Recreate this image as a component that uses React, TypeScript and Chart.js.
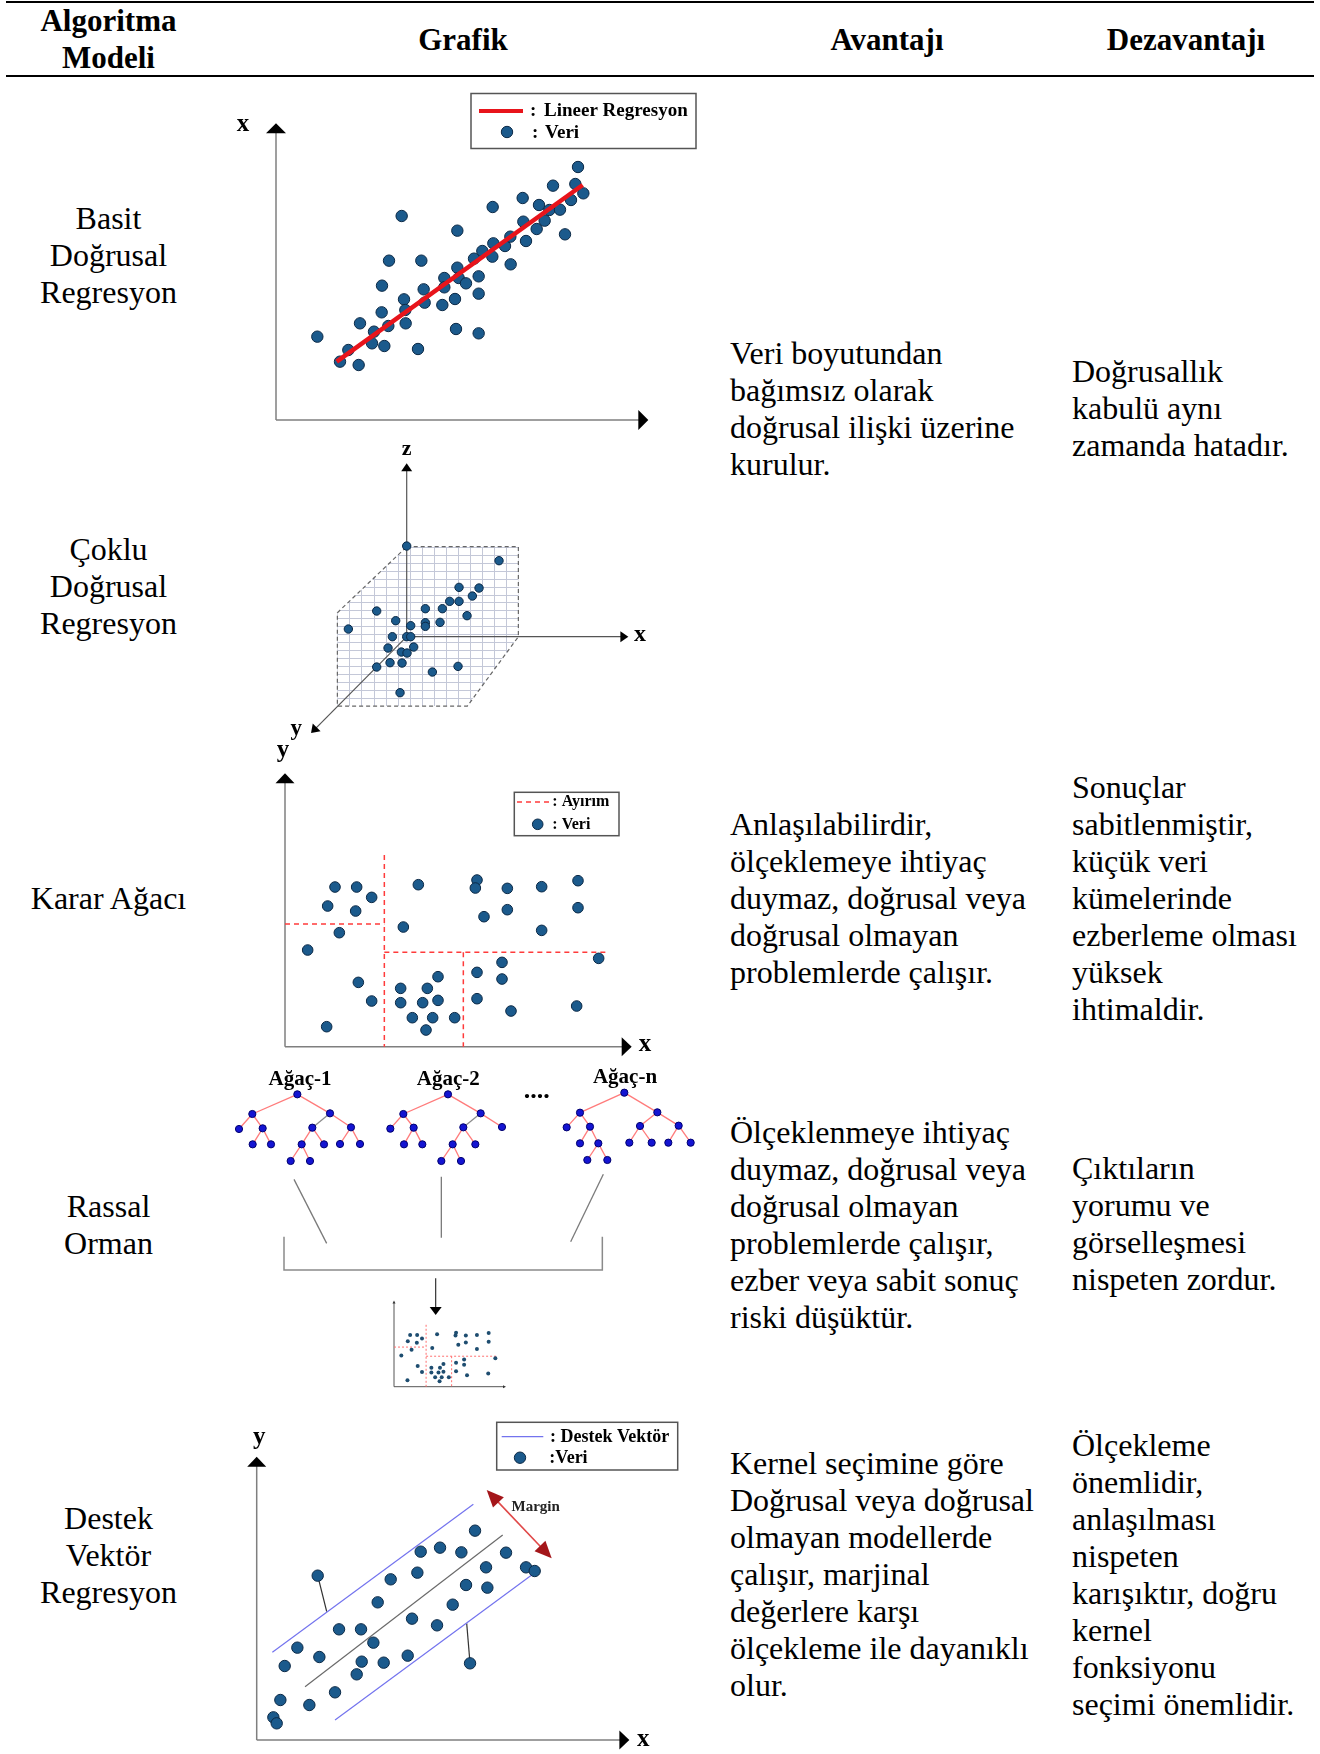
import React, { useEffect, useRef } from "react";
import { Chart, registerables } from "chart.js";
Chart.register(...registerables);

const SERIF = '"Liberation Serif", "Times New Roman", Times, serif';
type Pt = [number, number];

// ---------------- table text ----------------
const headerLabels: string[][] = [["Algoritma", "Modeli"], ["Grafik"], ["Avantajı"], ["Dezavantajı"]];
const modelNames: string[][] = [
  ["Basit", "Doğrusal", "Regresyon"],
  ["Çoklu", "Doğrusal", "Regresyon"],
  ["Karar Ağacı"],
  ["Rassal", "Orman"],
  ["Destek", "Vektör", "Regresyon"],
];
const advantages: string[][] = [
  ["Veri boyutundan", "bağımsız olarak", "doğrusal ilişki üzerine", "kurulur."],
  ["Anlaşılabilirdir,", "ölçeklemeye ihtiyaç", "duymaz, doğrusal veya", "doğrusal olmayan", "problemlerde çalışır."],
  ["Ölçeklenmeye ihtiyaç", "duymaz, doğrusal veya", "doğrusal olmayan", "problemlerde çalışır,", "ezber veya sabit sonuç", "riski düşüktür."],
  ["Kernel seçimine göre", "Doğrusal veya doğrusal", "olmayan modellerde", "çalışır, marjinal", "değerlere karşı", "ölçekleme ile dayanıklı", "olur."],
];
const disadvantages: string[][] = [
  ["Doğrusallık", "kabulü aynı", "zamanda hatadır."],
  ["Sonuçlar", "sabitlenmiştir,", "küçük veri", "kümelerinde", "ezberleme olması", "yüksek", "ihtimaldir."],
  ["Çıktıların", "yorumu ve", "görselleşmesi", "nispeten zordur."],
  ["Ölçekleme", "önemlidir,", "anlaşılması", "nispeten", "karışıktır, doğru", "kernel", "fonksiyonu", "seçimi önemlidir."],
];

// ---------------- chart data ----------------
// Basit Doğrusal Regresyon
const slrPoints: Pt[] = [
  [12.4, 25.0], [19.2, 17.5], [21.7, 21.0], [24.8, 16.5], [25.2, 29.0], [28.8, 23.0], [29.4, 26.5],
  [31.7, 32.3], [32.5, 22.2], [31.8, 40.3], [33.9, 47.8], [33.7, 28.2], [37.7, 61.2], [38.4, 36.2],
  [38.8, 33.0], [38.9, 29.0], [42.6, 21.3], [43.6, 47.8], [44.3, 39.2], [44.6, 35.2], [49.9, 34.5],
  [50.5, 42.6], [50.5, 39.8], [53.7, 36.3], [54.0, 27.3], [54.4, 56.8], [54.4, 45.7], [54.8, 42.6],
  [57.0, 41.0], [59.4, 48.4], [60.8, 43.1], [60.8, 37.9], [60.8, 26.0], [61.9, 50.7], [64.9, 49.0],
  [65.0, 63.9], [65.2, 53.0], [68.7, 52.2], [70.3, 55.0], [70.4, 46.7], [74.0, 66.6], [74.2, 59.5],
  [75.0, 53.7], [78.2, 57.3], [78.9, 64.5], [80.6, 59.8], [82.0, 63.0], [83.1, 70.3], [85.2, 63.1],
  [86.7, 55.7], [88.5, 66.0], [89.8, 70.8], [90.6, 75.9], [92.2, 68.0],
];
const slrFitLine: Pt[] = [[18.2, 17.5], [92.0, 70.5]];

// Çoklu Doğrusal Regresyon (projected 3D)
const mlrPoints: Pt[] = [
  [0, 27.2], [27.7, 22.8], [15.7, 14.8], [21.7, 14.6], [19.7, 12.2], [12.9, 10.6], [15.7, 10.6],
  [5.6, 8.4], [10.7, 8.4], [-9.0, 7.7], [18.1, 6.3], [-3.3, 4.8], [5.6, 4.2], [10.0, 4.3], [1.2, 3.3],
  [5.6, 3.1], [-17.5, 2.3], [-4.3, 0], [0, 0], [1.2, 0], [-5.6, -3.4], [2.1, -3.1], [-1.6, -4.6],
  [0.1, -4.9], [-5.0, -7.8], [-1.4, -7.9], [-9.0, -9.1], [15.4, -8.9], [7.7, -10.6], [-2.0, -16.8],
];
const mlrCube: Pt[] = [[0, 27], [33.5, 27], [33.5, 0], [18.2, -20.8], [-20.8, -20.8], [-20.8, 7.2]];
const mlrAxisTips: Pt[] = [[66.5, 0], [-28.7, -28.9], [0, 52]];

// Karar Ağacı
const dtPoints: Pt[] = [
  [15.0, 47.9], [21.5, 47.9], [26.0, 44.8], [12.8, 42.2], [21.2, 40.7], [16.3, 34.2], [6.8, 29.0],
  [40.0, 48.6], [35.5, 35.9], [57.6, 50.0], [57.1, 47.6], [66.7, 47.5], [77.0, 48.0], [87.9, 49.8],
  [66.7, 41.1], [59.7, 39.0], [87.9, 41.7], [77.0, 34.9], [94.1, 26.5], [65.1, 25.3], [57.6, 22.3],
  [65.1, 20.3], [57.6, 14.4], [67.8, 10.7], [87.5, 12.2], [22.0, 19.3], [26.0, 13.7], [12.5, 6.0],
  [45.9, 21.0], [42.7, 17.5], [34.7, 17.5], [34.7, 13.2], [41.3, 13.2], [45.9, 13.9], [38.2, 8.7],
  [44.3, 8.7], [50.9, 8.7], [42.3, 5.0],
];
const dtSplits: Pt[][] = [
  [[29.8, 57.5], [29.8, 0]],
  [[0, 36.8], [29.8, 36.8]],
  [[29.8, 28.3], [96.5, 28.3]],
  [[53.5, 28.3], [53.5, 0]],
];

// Rassal Orman
const rfTreeLabels = ["Ağaç-1", "Ağaç-2", "Ağaç-n"];
const rfLabelPos: Pt[] = [[24.0, 93.2], [68.5, 93.2], [121.5, 93.8]];
const rfNodes: Pt[][] = [
  [[23.2, 88.7], [9.7, 82.8], [33.0, 83.0], [5.7, 78.3], [12.8, 78.5], [9.8, 73.7], [15.3, 73.7],
   [27.7, 78.7], [39.3, 78.8], [24.5, 73.7], [31.2, 73.7], [21.2, 68.7], [27.0, 68.7], [36.0, 73.8], [42.0, 73.8]],
  [[68.4, 88.7], [55.0, 82.8], [78.2, 83.0], [51.1, 78.4], [58.1, 78.7], [55.2, 73.7], [60.7, 73.7],
   [73.0, 78.8], [84.6, 78.9], [69.8, 73.7], [76.6, 73.7], [66.4, 68.7], [72.3, 68.7]],
  [[121.3, 89.2], [108.0, 83.2], [131.2, 83.3], [104.0, 78.8], [111.0, 79.0], [108.0, 74.0], [113.5, 74.0],
   [110.2, 69.0], [116.2, 69.0], [126.0, 79.2], [137.6, 79.3], [122.8, 74.2], [129.5, 74.2], [134.5, 74.2], [141.2, 74.2]],
];
const rfParents: number[][] = [
  [-1, 0, 0, 1, 1, 4, 4, 2, 2, 7, 7, 9, 9, 8, 8],
  [-1, 0, 0, 1, 1, 4, 4, 2, 2, 7, 7, 9, 9],
  [-1, 0, 0, 1, 1, 4, 4, 6, 6, 2, 2, 9, 9, 10, 10],
];
const rfGrayEdges: number[][] = [[7], [7], []];
const rfConnectors: Pt[][] = [
  [[22.2, 63.2], [32.0, 44.0]],
  [[66.4, 64.0], [66.4, 45.7]],
  [[115.0, 64.7], [105.2, 44.5]],
];
const rfBracket: Pt[] = [[19.2, 46.0], [19.2, 36.0], [114.7, 36.0], [114.7, 46.0]];
const rfArrow: Pt[] = [[64.7, 33.5], [64.7, 22.5]];

// Destek Vektör Regresyon
const svrPoints: Pt[] = [
  [18.3, 49.3], [65.5, 62.8], [49.2, 56.5], [55.0, 57.7], [61.4, 56.3], [74.8, 56.2], [80.8, 51.8],
  [83.4, 50.7], [68.8, 51.8], [48.2, 50.2], [40.2, 48.2], [62.8, 46.5], [69.2, 45.7], [36.3, 41.3],
  [58.8, 40.6], [46.6, 36.4], [54.1, 34.4], [24.7, 33.2], [31.3, 33.2], [35.0, 29.2], [12.2, 27.7],
  [18.8, 24.9], [8.4, 22.2], [31.5, 23.5], [38.1, 23.2], [45.3, 25.3], [30.0, 19.7], [64.0, 23.0],
  [7.1, 12.0], [15.8, 10.5], [23.5, 14.3], [5.0, 6.8], [6.0, 5.0],
];
const svrUpper: Pt[] = [[4.7, 26.3], [65.0, 70.7]];
const svrCenter: Pt[] = [[14.5, 16.0], [73.8, 61.5]];
const svrLower: Pt[] = [[23.5, 6.0], [82.5, 49.5]];
const svrResiduals: Pt[][] = [[[18.3, 49.3], [21.0, 38.5]], [[64.0, 23.0], [63.0, 35.0]]];
const svrMargin: Pt[] = [[69.0, 75.0], [88.5, 54.5]];

// ---------------- layout ----------------
interface Frame { left: number; top: number; w: number; h: number; ox: number; oy: number; unit: number; }
const U = 10 / 3;
const F1: Frame = { left: 230, top: 85, w: 470, h: 360, ox: 276, oy: 420, unit: U };
const F2: Frame = { left: 280, top: 440, w: 380, h: 300, ox: 406.7, oy: 636.7, unit: U };
const F3: Frame = { left: 255, top: 745, w: 405, h: 320, ox: 285, oy: 1046.7, unit: U };
const F4: Frame = { left: 220, top: 1060, w: 480, h: 330, ox: 220, oy: 1390, unit: U };
const F4m: Frame = { left: 385, top: 1295, w: 130, h: 95, ox: 394, oy: 1386.7, unit: 1.077 };
const F5: Frame = { left: 225, top: 1420, w: 475, h: 334, ox: 256.7, oy: 1740, unit: U };

const modelTops = [200, 531, 880, 1188, 1500];
const advTops = [335, 806, 1114, 1445];
const disTops = [353, 769, 1150, 1427];

const DOT_FILL = "#1b5a8c";
const DOT_EDGE = "#0b2946";

// ---------------- helpers ----------------
function scalesFor(f: Frame) {
  return {
    x: { type: "linear", display: false, min: (f.left - f.ox) / f.unit, max: (f.left + f.w - f.ox) / f.unit },
    y: { type: "linear", display: false, min: (f.oy - f.top - f.h) / f.unit, max: (f.oy - f.top) / f.unit },
  };
}
function baseOptions(f: Frame): any {
  return {
    responsive: false,
    maintainAspectRatio: false,
    animation: false,
    events: [],
    layout: { padding: 0, autoPadding: false },
    plugins: { legend: { display: false }, tooltip: { enabled: false } },
    scales: scalesFor(f),
  };
}
const toXY = (pts: Pt[]) => pts.map(([x, y]) => ({ x, y }));
function dots(pts: Pt[], r: number, fill = DOT_FILL, edge = DOT_EDGE, bw = 1, order = 0): any {
  return {
    type: "scatter", data: toXY(pts), showLine: false, order,
    pointRadius: r, pointHoverRadius: r, pointBackgroundColor: fill, pointBorderColor: edge, pointBorderWidth: bw,
  };
}
function seg(pts: Pt[], color: string, width: number, dash: number[] = [], order = 1): any {
  return {
    type: "scatter", data: toXY(pts), showLine: true, order, fill: false, tension: 0,
    borderColor: color, borderWidth: width, borderDash: dash, pointRadius: 0, pointHoverRadius: 0,
  };
}
const P = (c: any, p: Pt): Pt => [c.scales.x.getPixelForValue(p[0]), c.scales.y.getPixelForValue(p[1])];

function arrow(ctx: CanvasRenderingContext2D, c: any, from: Pt, tip: Pt, color: string, lw: number, hl: number, hw: number, hc = "#000", both = false) {
  const [x0, y0] = P(c, from);
  const [x1, y1] = P(c, tip);
  const a = Math.atan2(y1 - y0, x1 - x0);
  ctx.save();
  ctx.strokeStyle = color;
  ctx.lineWidth = lw;
  ctx.setLineDash([]);
  ctx.beginPath();
  const s = both ? hl * 0.7 : 0;
  ctx.moveTo(x0 + Math.cos(a) * s, y0 + Math.sin(a) * s);
  ctx.lineTo(x1 - Math.cos(a) * hl * 0.7, y1 - Math.sin(a) * hl * 0.7);
  ctx.stroke();
  const head = (x: number, y: number, ang: number) => {
    ctx.save();
    ctx.translate(x, y);
    ctx.rotate(ang);
    ctx.beginPath();
    ctx.moveTo(0, 0);
    ctx.lineTo(-hl, hw / 2);
    ctx.lineTo(-hl, -hw / 2);
    ctx.closePath();
    ctx.fillStyle = hc;
    ctx.fill();
    ctx.restore();
  };
  head(x1, y1, a);
  if (both) head(x0, y0, a + Math.PI);
  ctx.restore();
}
function polyline(ctx: CanvasRenderingContext2D, c: any, pts: Pt[], color: string, lw: number) {
  ctx.save();
  ctx.strokeStyle = color;
  ctx.lineWidth = lw;
  ctx.beginPath();
  pts.forEach((p, i) => {
    const [x, y] = P(c, p);
    if (i) ctx.lineTo(x, y);
    else ctx.moveTo(x, y);
  });
  ctx.stroke();
  ctx.restore();
}
function text(ctx: CanvasRenderingContext2D, s: string, x: number, y: number, size: number, align: CanvasTextAlign = "center", bold = true, color = "#000") {
  ctx.save();
  ctx.font = `${bold ? "bold " : ""}${size}px ${SERIF}`;
  ctx.fillStyle = color;
  ctx.textAlign = align;
  ctx.textBaseline = "middle";
  ctx.fillText(s, x, y);
  ctx.restore();
}
function legendBox(ctx: CanvasRenderingContext2D, x: number, y: number, w: number, h: number) {
  ctx.save();
  ctx.strokeStyle = "#555";
  ctx.lineWidth = 1.5;
  ctx.setLineDash([]);
  ctx.strokeRect(x, y, w, h);
  ctx.restore();
}
function legendDot(ctx: CanvasRenderingContext2D, x: number, y: number, r: number) {
  ctx.save();
  ctx.beginPath();
  ctx.arc(x, y, r, 0, Math.PI * 2);
  ctx.fillStyle = DOT_FILL;
  ctx.fill();
  ctx.strokeStyle = DOT_EDGE;
  ctx.lineWidth = 1;
  ctx.stroke();
  ctx.restore();
}
function legendLine(ctx: CanvasRenderingContext2D, x0: number, x1: number, y: number, color: string, lw: number, dash: number[] = []) {
  ctx.save();
  ctx.strokeStyle = color;
  ctx.lineWidth = lw;
  ctx.setLineDash(dash);
  ctx.beginPath();
  ctx.moveTo(x0, y);
  ctx.lineTo(x1, y);
  ctx.stroke();
  ctx.restore();
}

// ---------------- chart configs ----------------
function cfgSLR(): any {
  return {
    type: "scatter",
    data: { datasets: [seg(slrFitLine, "#e8141b", 4.5, [], 0), dots(slrPoints, 5.7, DOT_FILL, DOT_EDGE, 1, 1)] },
    options: baseOptions(F1),
    plugins: [{
      id: "slrDeco",
      beforeDatasetsDraw(c: any) {
        const ctx = c.ctx;
        arrow(ctx, c, [0, 0], [0, 89], "#7f7f7f", 1.5, 10, 20);
        arrow(ctx, c, [0, 0], [111.7, 0], "#7f7f7f", 1.5, 10, 20);
      },
      afterDraw(c: any) {
        const ctx = c.ctx;
        const [lx, ly] = P(c, [-9.9, 87.9]);
        text(ctx, "x", lx, ly - 2, 25);
        legendBox(ctx, 241, 8.5, 225, 55);
        legendLine(ctx, 249, 293, 26, "#e8141b", 4);
        text(ctx, ":", 300, 26, 19, "left");
        text(ctx, "Lineer Regresyon", 314, 26, 19, "left");
        legendDot(ctx, 277, 47, 5.7);
        text(ctx, ":", 302, 48, 19, "left");
        text(ctx, "Veri", 315, 48, 19, "left");
      },
    }],
  };
}

function cubePath(ctx: CanvasRenderingContext2D, c: any) {
  ctx.beginPath();
  mlrCube.forEach((p, i) => {
    const [x, y] = P(c, p);
    if (i) ctx.lineTo(x, y);
    else ctx.moveTo(x, y);
  });
  ctx.closePath();
}
function cfgMLR(): any {
  return {
    type: "scatter",
    data: { datasets: [dots(mlrPoints, 4.2)] },
    options: baseOptions(F2),
    plugins: [{
      id: "mlrDeco",
      beforeDatasetsDraw(c: any) {
        const ctx = c.ctx;
        const xs = mlrCube.map((p) => p[0]);
        const ys = mlrCube.map((p) => p[1]);
        const x0 = Math.min(...xs), x1 = Math.max(...xs), y0 = Math.min(...ys), y1 = Math.max(...ys);
        ctx.save();
        cubePath(ctx, c);
        ctx.clip();
        ctx.strokeStyle = "#c4c8d8";
        ctx.lineWidth = 1;
        const nx = 15, ny = 20;
        for (let k = 0; k <= nx; k++) {
          const gx = x0 + (k * (x1 - x0)) / nx;
          const [a, b] = P(c, [gx, y0]);
          const [, d] = P(c, [gx, y1]);
          ctx.beginPath();
          ctx.moveTo(Math.round(a) + 0.5, b);
          ctx.lineTo(Math.round(a) + 0.5, d);
          ctx.stroke();
        }
        for (let k = 0; k <= ny; k++) {
          const gy = y0 + (k * (y1 - y0)) / ny;
          const [a, b] = P(c, [x0, gy]);
          const [e] = P(c, [x1, gy]);
          ctx.beginPath();
          ctx.moveTo(a, Math.round(b) + 0.5);
          ctx.lineTo(e, Math.round(b) + 0.5);
          ctx.stroke();
        }
        ctx.restore();
        ctx.save();
        cubePath(ctx, c);
        ctx.setLineDash([4, 3]);
        ctx.strokeStyle = "#666";
        ctx.lineWidth = 1.2;
        ctx.stroke();
        ctx.restore();
        mlrAxisTips.forEach((tip) => arrow(ctx, c, [0, 0], tip, "#555", 1.2, 8, 11));
      },
      afterDraw(c: any) {
        const ctx = c.ctx;
        let [x, y] = P(c, [0, 55.5]);
        text(ctx, "z", x, y - 2, 22);
        [x, y] = P(c, [70, 0]);
        text(ctx, "x", x, y - 2, 24);
        [x, y] = P(c, [-33.1, -28.3]);
        text(ctx, "y", x, y - 2, 23);
      },
    }],
  };
}

function cfgDT(): any {
  return {
    type: "scatter",
    data: {
      datasets: [
        dots(dtPoints, 5.3),
        ...dtSplits.map((s) => seg(s, "#ff3b3b", 1.5, [5, 4], 1)),
      ],
    },
    options: baseOptions(F3),
    plugins: [{
      id: "dtDeco",
      beforeDatasetsDraw(c: any) {
        const ctx = c.ctx;
        arrow(ctx, c, [0, 0], [0, 82], "#7f7f7f", 1.5, 10, 19);
        arrow(ctx, c, [0, 0], [104, 0], "#7f7f7f", 1.5, 10, 19);
      },
      afterDraw(c: any) {
        const ctx = c.ctx;
        let [x, y] = P(c, [-0.6, 88.1]);
        text(ctx, "y", x, y - 2, 25);
        [x, y] = P(c, [108, 0]);
        text(ctx, "x", x, y - 2, 25);
        legendBox(ctx, 259.3, 47.3, 104.7, 43.4);
        legendLine(ctx, 262, 295, 57, "#ff3b3b", 1.5, [5, 4]);
        text(ctx, ": Ayırım", 297.3, 57, 16, "left");
        legendDot(ctx, 282.7, 79.3, 5.3);
        text(ctx, ": Veri", 297.3, 80, 16, "left");
      },
    }],
  };
}

function cfgRF(): any {
  const datasets: any[] = [];
  rfNodes.forEach((nodes) => datasets.push(dots(nodes, 3.6, "#1414d2", "#00006e", 1, 0)));
  rfNodes.forEach((nodes, t) => {
    rfParents[t].forEach((p, i) => {
      if (p < 0) return;
      const gray = rfGrayEdges[t].includes(i);
      datasets.push(seg([nodes[p], nodes[i]], gray ? "#8c8c8c" : "#ff7b7b", 1.3, [], 1));
    });
  });
  rfConnectors.forEach((s) => datasets.push(seg(s, "#7a7a7a", 1.3, [], 1)));
  return {
    type: "scatter",
    data: { datasets },
    options: baseOptions(F4),
    plugins: [{
      id: "rfDeco",
      afterDraw(c: any) {
        const ctx = c.ctx;
        rfTreeLabels.forEach((s, i) => {
          const [x, y] = P(c, rfLabelPos[i]);
          text(ctx, s, x, y, 21);
        });
        const [dx, dy] = P(c, [95, 89.6]);
        text(ctx, "....", dx, dy, 26);
        polyline(ctx, c, rfBracket, "#8a8a8a", 1.5);
        arrow(ctx, c, rfArrow[0], rfArrow[1], "#333", 1.2, 8, 12);
      },
    }],
  };
}

function cfgRFMini(): any {
  return {
    type: "scatter",
    data: {
      datasets: [
        dots(dtPoints, 2, "#1e4d70", "#1e4d70", 0, 0),
        ...dtSplits.map((s) => seg(s, "#ff7070", 1, [2, 2], 1)),
      ],
    },
    options: baseOptions(F4m),
    plugins: [{
      id: "rfMiniDeco",
      beforeDatasetsDraw(c: any) {
        const ctx = c.ctx;
        arrow(ctx, c, [0, 0], [0, 80], "#555", 1, 3, 3, "#333");
        arrow(ctx, c, [0, 0], [104, 0], "#555", 1, 3, 3, "#333");
      },
    }],
  };
}

function cfgSVR(): any {
  return {
    type: "scatter",
    data: {
      datasets: [
        dots(svrPoints, 5.7, DOT_FILL, DOT_EDGE, 1, 0),
        seg(svrUpper, "#7373ee", 1.2),
        seg(svrLower, "#7373ee", 1.2),
        seg(svrCenter, "#6a6a6a", 1.2),
        ...svrResiduals.map((s) => seg(s, "#333", 1.2)),
      ],
    },
    options: baseOptions(F5),
    plugins: [{
      id: "svrDeco",
      beforeDatasetsDraw(c: any) {
        const ctx = c.ctx;
        arrow(ctx, c, [0, 0], [0, 85], "#7f7f7f", 1.5, 10, 19);
        arrow(ctx, c, [0, 0], [111.8, 0], "#7f7f7f", 1.5, 10, 19);
      },
      afterDraw(c: any) {
        const ctx = c.ctx;
        arrow(ctx, c, svrMargin[0], svrMargin[1], "#e04848", 1.6, 17, 15, "#a4161a", true);
        let [x, y] = P(c, [83.7, 69.8]);
        text(ctx, "Margin", x, y, 15, "center", true, "#222");
        [x, y] = P(c, [0.8, 90]);
        text(ctx, "y", x, y - 2, 25);
        [x, y] = P(c, [116, -0.5]);
        text(ctx, "x", x, y - 2, 25);
        legendBox(ctx, 271.7, 2.3, 181, 47.7);
        legendLine(ctx, 276.7, 318.3, 16.7, "#7373ee", 1.2);
        text(ctx, ": Destek Vektör", 325, 17, 18, "left");
        legendDot(ctx, 295, 37.7, 5.7);
        text(ctx, ":Veri", 324.3, 38, 18, "left");
      },
    }],
  };
}

// ---------------- components ----------------
function ChartBox({ frame, build }: { frame: Frame; build: () => any }) {
  const ref = useRef<HTMLCanvasElement>(null);
  useEffect(() => {
    const chart = new Chart(ref.current as HTMLCanvasElement, build());
    return () => chart.destroy();
  }, []);
  return (
    <div style={{ position: "absolute", left: frame.left, top: frame.top, width: frame.w, height: frame.h }}>
      <canvas ref={ref} width={frame.w} height={frame.h} style={{ width: frame.w, height: frame.h, display: "block" }} />
    </div>
  );
}

function TextBlock({ lines, left, top, width, align, bold, size }: { lines: string[]; left: number; top: number; width?: number; align: "left" | "center"; bold?: boolean; size: number }) {
  return (
    <div
      style={{
        position: "absolute", left, top, width, textAlign: align, fontFamily: SERIF, fontSize: size,
        lineHeight: "37px", fontWeight: bold ? "bold" : "normal", whiteSpace: "pre", color: "#000",
      }}
    >
      {lines.map((l, i) => (
        <div key={i}>{l}</div>
      ))}
    </div>
  );
}

export default function App() {
  const headerCenters = [108.5, 463, 887, 1186];
  const headerTops = [2, 21, 21, 21];
  return (
    <div style={{ position: "absolute", left: 0, top: 0, width: 1320, height: 1754, overflow: "hidden", background: "#fff" }}>
      <div style={{ position: "absolute", left: 6, top: 1, width: 1308, height: 2, background: "#000" }} />
      <div style={{ position: "absolute", left: 6, top: 75, width: 1308, height: 2, background: "#000" }} />
      {headerLabels.map((h, i) => (
        <TextBlock key={"h" + i} lines={h} left={headerCenters[i] - 150} width={300} top={headerTops[i]} align="center" bold size={31} />
      ))}
      {modelNames.map((m, i) => (
        <TextBlock key={"m" + i} lines={m} left={0} width={217} top={modelTops[i]} align="center" size={32} />
      ))}
      {advantages.map((a, i) => (
        <TextBlock key={"a" + i} lines={a} left={730} top={advTops[i]} align="left" size={32} />
      ))}
      {disadvantages.map((d, i) => (
        <TextBlock key={"d" + i} lines={d} left={1072} top={disTops[i]} align="left" size={32} />
      ))}
      <ChartBox frame={F1} build={cfgSLR} />
      <ChartBox frame={F2} build={cfgMLR} />
      <ChartBox frame={F3} build={cfgDT} />
      <ChartBox frame={F4} build={cfgRF} />
      <ChartBox frame={F4m} build={cfgRFMini} />
      <ChartBox frame={F5} build={cfgSVR} />
    </div>
  );
}
